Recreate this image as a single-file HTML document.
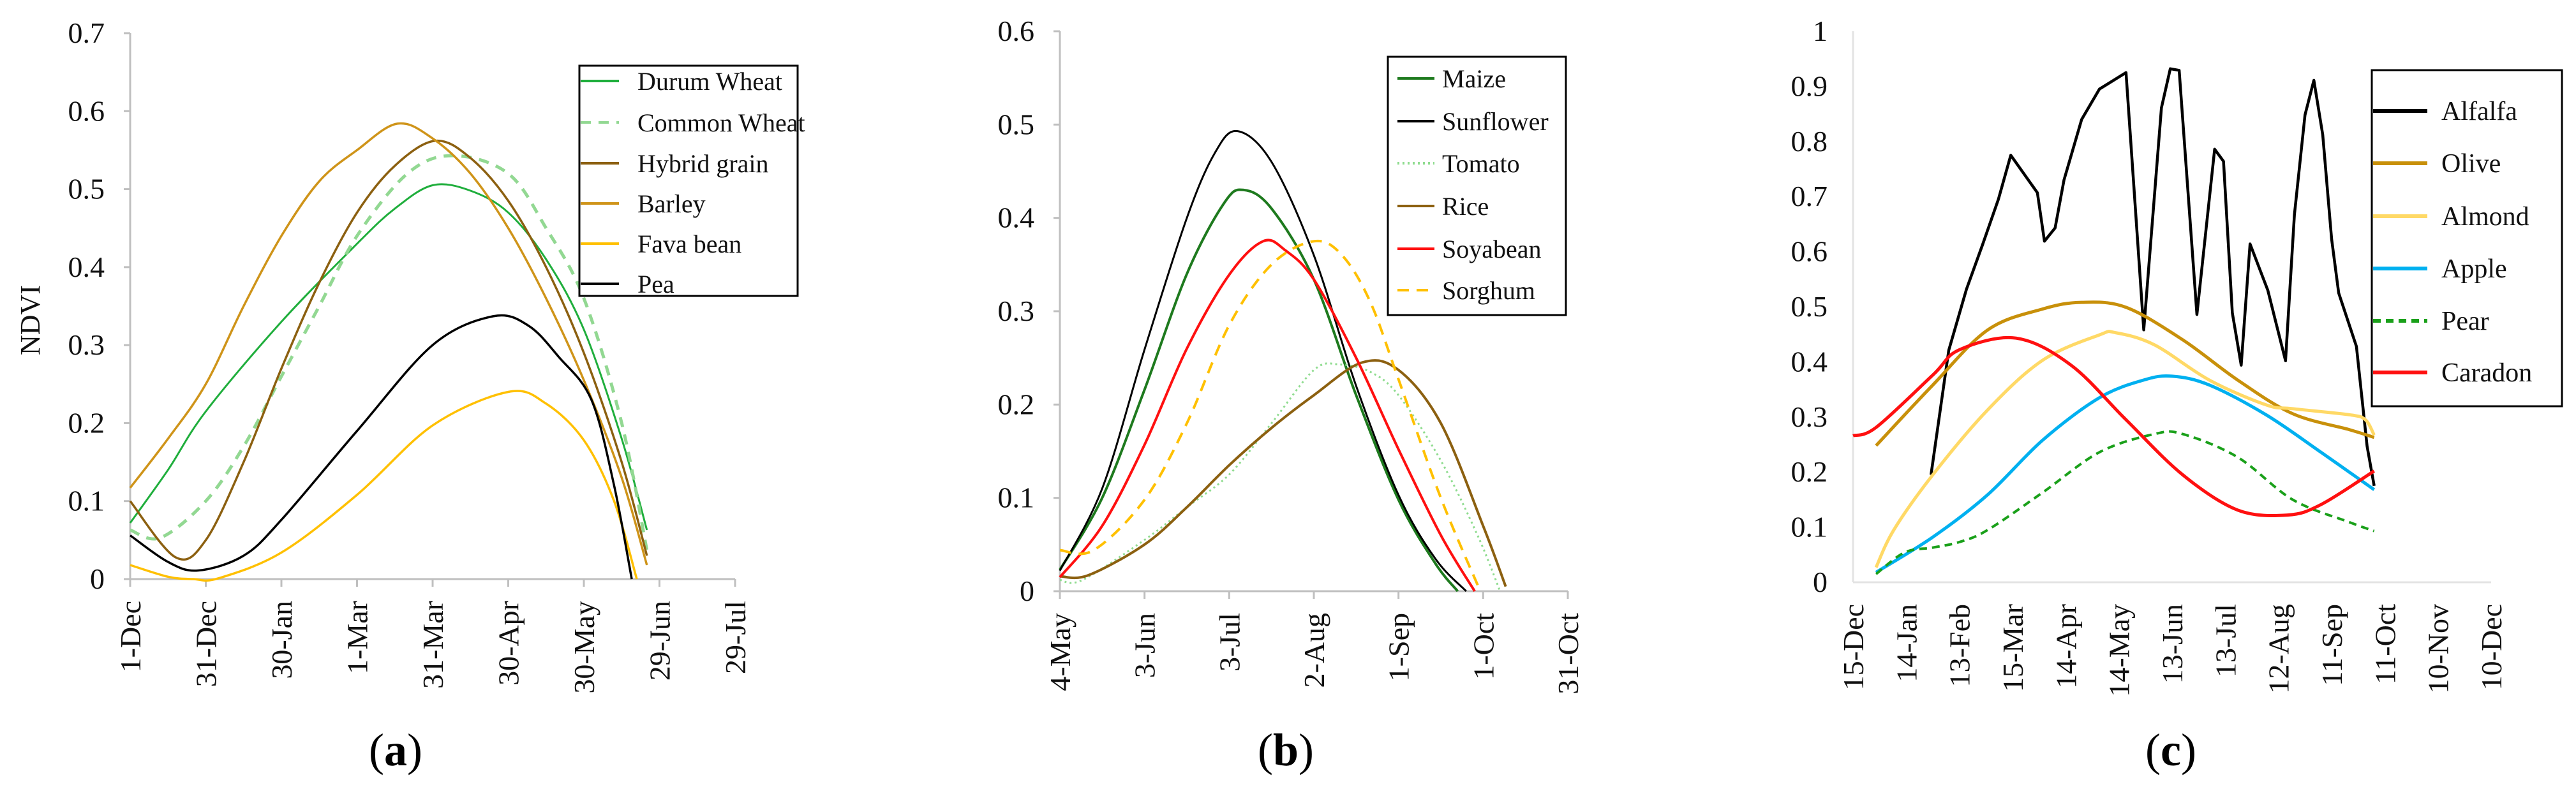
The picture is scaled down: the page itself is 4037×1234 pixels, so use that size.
<!DOCTYPE html>
<html><head><meta charset="utf-8"><style>
html,body{margin:0;padding:0;background:#fff;}
svg{display:block;font-family:"Liberation Serif",serif;}
</style></head><body>
<svg id="fig" width="4037" height="1234" viewBox="0 0 4037 1234" xmlns="http://www.w3.org/2000/svg"></svg>
<script>
// ---------- Panel (a) data ----------
const aXLabels = ["1-Dec","31-Dec","30-Jan","1-Mar","31-Mar","30-Apr","30-May","29-Jun","29-Jul"];
const aYTicks = [0,0.1,0.2,0.3,0.4,0.5,0.6,0.7];
const aNames = ["Durum Wheat","Common Wheat","Hybrid grain","Barley","Fava bean","Pea"];
const aDurumDays = [0,15,30,60,90,105,120,135,150,165,180,195,205];
const aDurumVals = [0.072,0.14,0.215,0.33,0.43,0.475,0.505,0.498,0.47,0.41,0.32,0.18,0.063];
const aCommonDays = [0,12,30,45,60,75,90,110,128,150,165,180,195,205];
const aCommonVals = [0.063,0.053,0.10,0.17,0.26,0.35,0.44,0.52,0.543,0.52,0.45,0.36,0.20,0.037];
const aHybridDays = [0,18,30,45,60,75,90,105,121,135,150,165,180,195,205];
const aHybridVals = [0.10,0.028,0.05,0.15,0.27,0.38,0.47,0.53,0.562,0.54,0.485,0.40,0.29,0.15,0.03];
const aBarleyDays = [0,15,30,45,60,75,90,106,120,135,150,165,180,195,205];
const aBarleyVals = [0.117,0.18,0.25,0.35,0.44,0.51,0.55,0.584,0.565,0.52,0.45,0.36,0.255,0.13,0.018];
const aFavaDays = [0,15,25,35,60,90,120,150,165,180,192,201];
const aFavaVals = [0.018,0.003,0.0,0.001,0.034,0.108,0.197,0.24,0.225,0.178,0.10,0.0];
const aPeaDays = [0,15,27,45,60,90,120,144,158,170,183,192,199];
const aPeaVals = [0.056,0.022,0.011,0.03,0.076,0.19,0.30,0.337,0.325,0.285,0.23,0.12,0.0];

// ---------- Panel (b) data ----------
const bXLabels = ["4-May","3-Jun","3-Jul","2-Aug","1-Sep","1-Oct","31-Oct"];
const bYTicks = [0,0.1,0.2,0.3,0.4,0.5,0.6];
const bNames = ["Maize","Sunflower","Tomato","Rice","Soyabean","Sorghum"];
const bMaizeDays = [0,15,30,45,58,65,75,90,105,120,133,141];
const bMaizeVals = [0.023,0.10,0.216,0.34,0.415,0.43,0.41,0.334,0.21,0.098,0.03,0.0];
const bSunDays = [0,15,30,45,55,63,75,90,105,120,133,144];
const bSunVals = [0.022,0.11,0.259,0.40,0.47,0.493,0.46,0.36,0.22,0.103,0.035,0.0];
const bTomDays = [0,8,30,45,60,75,90,99,110,120,135,148,156];
const bTomVals = [0.012,0.012,0.055,0.09,0.125,0.18,0.237,0.243,0.235,0.21,0.14,0.06,0.0];
const bRiceDays = [0,10,30,45,60,75,90,107,120,135,150,158];
const bRiceVals = [0.016,0.017,0.05,0.09,0.135,0.175,0.21,0.245,0.237,0.18,0.07,0.005];
const bSoyDays = [0,15,30,45,60,72,80,90,105,120,135,147];
const bSoyVals = [0.015,0.07,0.157,0.26,0.339,0.375,0.365,0.334,0.25,0.152,0.06,0.0];
const bSorDays = [0,12,30,45,60,75,90,100,110,120,135,149];
const bSorVals = [0.044,0.044,0.098,0.18,0.285,0.35,0.375,0.36,0.31,0.227,0.10,0.0];

// ---------- Panel (c) data ----------
const cXLabels = ["15-Dec","14-Jan","13-Feb","15-Mar","14-Apr","14-May","13-Jun","13-Jul","12-Aug","11-Sep","11-Oct","10-Nov","10-Dec"];
const cYTicks = [0,0.1,0.2,0.3,0.4,0.5,0.6,0.7,0.8,0.9,1];
const cNames = ["Alfalfa","Olive","Almond","Apple","Pear","Caradon"];
const cAlfDays = [44,54,64,73,82,89,104,108,114,119,129,139,154,164,174,179,184,194,204,209,214,219,224,234,244,249,255,260,265,270,274,284,290,294];
const cAlfVals = [0.195,0.421,0.532,0.612,0.695,0.775,0.707,0.619,0.643,0.73,0.84,0.895,0.925,0.458,0.861,0.932,0.929,0.486,0.786,0.764,0.489,0.394,0.614,0.53,0.402,0.667,0.848,0.911,0.812,0.623,0.525,0.428,0.247,0.175];
const cOliveDays = [13,45,76,107,129,154,186,217,248,280,294];
const cOliveVals = [0.248,0.358,0.458,0.496,0.508,0.499,0.44,0.367,0.306,0.277,0.263];
const cAlmDays = [13,23,45,76,107,139,148,170,201,233,248,280,289,294];
const cAlmVals = [0.027,0.095,0.195,0.313,0.403,0.449,0.453,0.431,0.367,0.322,0.315,0.304,0.295,0.267];
const cAppleDays = [13,45,76,107,139,164,180,201,233,264,294];
const cAppleVals = [0.018,0.082,0.159,0.258,0.335,0.367,0.374,0.358,0.304,0.236,0.168];
const cPearDays = [13,29,45,60,76,107,139,170,186,217,248,280,294];
const cPearVals = [0.015,0.054,0.063,0.073,0.095,0.163,0.236,0.269,0.269,0.227,0.15,0.109,0.093];
const cCarDays = [0,13,45,60,92,123,154,186,217,245,264,294];
const cCarVals = [0.266,0.281,0.376,0.422,0.443,0.394,0.295,0.195,0.131,0.122,0.141,0.202];

const NS = "http://www.w3.org/2000/svg";
const svg = document.getElementById('fig');
function mk(tag, attrs, parent){const e=document.createElementNS(NS,tag);for(const k in attrs)e.setAttribute(k,attrs[k]);(parent||svg).appendChild(e);return e;}
function smoothPath(pts){
  let d="M"+pts[0][0].toFixed(1)+","+pts[0][1].toFixed(1);
  for(let i=0;i<pts.length-1;i++){
    const p0=pts[i-1]||pts[i],p1=pts[i],p2=pts[i+1],p3=pts[i+2]||pts[i+1];
    const c1=[p1[0]+(p2[0]-p0[0])/6,p1[1]+(p2[1]-p0[1])/6];
    const c2=[p2[0]-(p3[0]-p1[0])/6,p2[1]-(p3[1]-p1[1])/6];
    d+="C"+c1[0].toFixed(1)+","+c1[1].toFixed(1)+" "+c2[0].toFixed(1)+","+c2[1].toFixed(1)+" "+p2[0].toFixed(1)+","+p2[1].toFixed(1);
  }
  return d;
}
function linePath(pts){return "M"+pts.map(p=>p[0].toFixed(1)+","+p[1].toFixed(1)).join("L");}

function panel(cfg){
  const g=mk('g',{});
  
  
  const xs=d=>cfg.x0+(d/cfg.dMax)*(cfg.x1-cfg.x0);
  const ys=v=>cfg.y0-(v/cfg.vMax)*(cfg.y0-cfg.y1);
  const ax=mk('line',{x1:cfg.x0,y1:cfg.y1,x2:cfg.x0,y2:cfg.y0,stroke:cfg.axisColor,'stroke-width':3},g);
  
  
  const bx=mk('line',{x1:cfg.x0-(cfg.ticks?8:0),y1:cfg.y0,x2:cfg.x1,y2:cfg.y0,stroke:cfg.axisColor,'stroke-width':3},g);
  
  
  cfg.yTicks.forEach(v=>{
    const y=ys(v);
    if(cfg.ticks){const t=mk('line',{x1:cfg.x0-10,y1:y,x2:cfg.x0,y2:y,stroke:cfg.axisColor,'stroke-width':3},g);
      
      }
    const tx=mk('text',{x:cfg.x0-40,y:y+15,'text-anchor':'end','font-size':46,fill:'#111'},g);
    
    
    tx.textContent=String(v);
  });
  cfg.xLabels.forEach((lab,i)=>{
    const x=xs(i*30);
    if(cfg.ticks){const t=mk('line',{x1:x,y1:cfg.y0,x2:x,y2:cfg.y0+12,stroke:cfg.axisColor,'stroke-width':3},g);
      
      }
    const tx=mk('text',{x:x+16,y:cfg.y0+34,'text-anchor':'end','font-size':46,fill:'#111',transform:`rotate(-90 ${x+16} ${cfg.y0+34})`},g);
    
    
    tx.textContent=lab;
  });
  cfg.series.forEach(s=>{
    const pts=s.days.map((d,i)=>[xs(d),ys(s.vals[i])]);
    const p=mk('path',{d:s.straight?linePath(pts):smoothPath(pts),fill:'none',stroke:s.color,'stroke-width':s.w,'stroke-dasharray':s.dash||'none','stroke-linejoin':'round'},g);
    
    
  });
  const L=cfg.legend;
  const box=mk('rect',{x:L.x,y:L.y,width:L.w,height:L.h,fill:'#fff',stroke:'#000','stroke-width':3},g);
  
  
  cfg.series.forEach((s,i)=>{
    const y=L.rows[i];
    const ln=mk('line',{x1:L.lx1,y1:y,x2:L.lx2,y2:y,stroke:s.color,'stroke-width':L.lw,'stroke-dasharray':s.dash||'none'},g);
    
    
    const t=mk('text',{x:L.tx,y:y+14,'font-size':L.fs,fill:'#111'},g);
    
    
    t.textContent=cfg.names[i];
  });
  const cap=mk('text',{x:cfg.capX,y:1200,'text-anchor':'middle','font-size':72,fill:'#000'},g);
  
  
  cap.innerHTML='(<tspan font-weight="bold">'+cfg.cap+'</tspan>)';
}

panel({name:'panel-a',x0:204,x1:1152,dMax:240,y0:908,y1:52,vMax:0.7,axisColor:'#bfbfbf',ticks:true,
  xLabels:aXLabels,yTicks:aYTicks,names:aNames,capX:620,cap:'a',
  series:[
    {key:'durum-wheat',days:aDurumDays,vals:aDurumVals,color:'#1fae3c',w:3},
    {key:'common-wheat',days:aCommonDays,vals:aCommonVals,color:'#92d892',w:5,dash:'16 12'},
    {key:'hybrid-grain',days:aHybridDays,vals:aHybridVals,color:'#8c6010',w:3.5},
    {key:'barley',days:aBarleyDays,vals:aBarleyVals,color:'#cf9419',w:3.5},
    {key:'fava-bean',days:aFavaDays,vals:aFavaVals,color:'#ffc000',w:3.5},
    {key:'pea',days:aPeaDays,vals:aPeaVals,color:'#000',w:3.5}],
  legend:{x:908,y:103,w:342,h:361,lx1:910,lx2:970,tx:999,lw:4,fs:40,rows:[127,192,256,319,382,445]}});

panel({name:'panel-b',x0:1661,x1:2457,dMax:180,y0:927,y1:49,vMax:0.6,axisColor:'#bfbfbf',ticks:true,
  xLabels:bXLabels,yTicks:bYTicks,names:bNames,capX:2015,cap:'b',
  series:[
    {key:'maize',days:bMaizeDays,vals:bMaizeVals,color:'#1e7a1e',w:4},
    {key:'sunflower',days:bSunDays,vals:bSunVals,color:'#000',w:3},
    {key:'tomato',days:bTomDays,vals:bTomVals,color:'#8fdc8f',w:3,dash:'3 5'},
    {key:'rice',days:bRiceDays,vals:bRiceVals,color:'#8c6010',w:4},
    {key:'soyabean',days:bSoyDays,vals:bSoyVals,color:'#ff1010',w:4},
    {key:'sorghum',days:bSorDays,vals:bSorVals,color:'#ffc000',w:4,dash:'18 12'}],
  legend:{x:2175,y:89,w:279,h:405,lx1:2190,lx2:2248,tx:2260,lw:4,fs:40,rows:[123,190,256,323,390,455]}});

panel({name:'panel-c',x0:2904,x1:3904,dMax:360,y0:913,y1:49,vMax:1,axisColor:'#e3e3e3',ticks:false,
  xLabels:cXLabels,yTicks:cYTicks,names:cNames,capX:3402,cap:'c',
  series:[
    {key:'alfalfa',days:cAlfDays,vals:cAlfVals,color:'#000',w:4.5,straight:true},
    {key:'olive',days:cOliveDays,vals:cOliveVals,color:'#c8900a',w:5},
    {key:'almond',days:cAlmDays,vals:cAlmVals,color:'#ffd966',w:5},
    {key:'apple',days:cAppleDays,vals:cAppleVals,color:'#00b0f0',w:5},
    {key:'pear',days:cPearDays,vals:cPearVals,color:'#1aa01a',w:4,dash:'12 8'},
    {key:'caradon',days:cCarDays,vals:cCarVals,color:'#ff1010',w:5}],
  legend:{x:3717,y:110,w:298,h:527,lx1:3719,lx2:3804,tx:3826,lw:6,fs:42,rows:[174,256,339,421,503,584]}});

const yl=mk('text',{x:62,y:502,'text-anchor':'middle','font-size':44,fill:'#111',transform:'rotate(-90 62 502)'});


yl.textContent='NDVI';
</script>
</body></html>
